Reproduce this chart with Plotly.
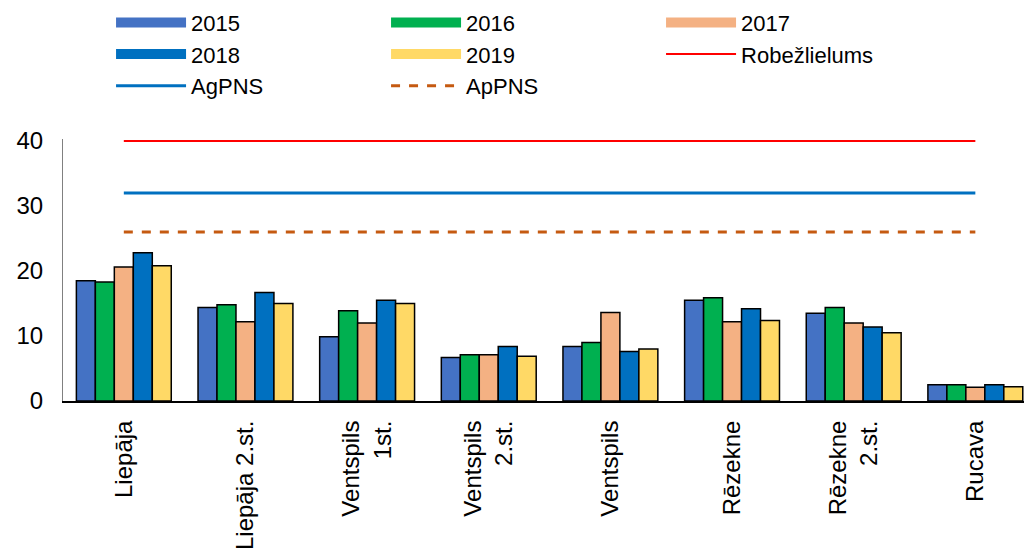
import plotly.graph_objects as go

CATEGORIES = ['Liepāja', 'Liepāja 2.st.', 'Ventspils<br>1st.', 'Ventspils<br>2.st.',
              'Ventspils', 'Rēzekne', 'Rēzekne<br>2.st.', 'Rucava']

V2015 = [18.5, 14.4, 9.9, 6.7, 8.4, 15.5, 13.5, 2.5]
V2016 = [18.3, 14.8, 13.9, 7.1, 9.0, 15.9, 14.4, 2.5]
V2017 = [20.6, 12.2, 12.0, 7.1, 13.6, 12.2, 12.0, 2.1]
V2018 = [22.8, 16.7, 15.5, 8.4, 7.6, 14.2, 11.4, 2.5]
V2019 = [20.8, 15.0, 15.0, 6.9, 8.0, 12.4, 10.5, 2.2]

LIMIT_ROBEZ = 40
LIMIT_AGPNS = 32
LIMIT_APPNS = 26

YEARS = ['2015', '2016', '2017', '2018', '2019']
SERIES = [V2015, V2016, V2017, V2018, V2019]
COLORS = ['#4472C4', '#00B050', '#F4B183', '#0070C0', '#FFD966']

FONT = 'Liberation Sans, Arial, sans-serif'

fig = go.Figure()

for name, vals, color in zip(YEARS, SERIES, COLORS):
    fig.add_trace(go.Bar(
        x=CATEGORIES,
        y=vals,
        name=name,
        legendgroup=name,
        showlegend=False,
        marker=dict(color=color, line=dict(color='black', width=1.5)),
    ))
    # legend entry drawn as a wide block, like the spreadsheet legend
    fig.add_trace(go.Scatter(
        x=[None],
        y=[None],
        name=name,
        legendgroup=name,
        mode='lines',
        line=dict(color=color, width=12),
    ))

lines = [
    ('Robežlielums', LIMIT_ROBEZ, '#FF0000', 2, 'solid'),
    ('AgPNS', LIMIT_AGPNS, '#0070C0', 3, 'solid'),
    ('ApPNS', LIMIT_APPNS, '#C55A11', 3, 'dash'),
]
for name, val, color, width, dash in lines:
    fig.add_trace(go.Scatter(
        x=CATEGORIES,
        y=[val] * len(CATEGORIES),
        name=name,
        mode='lines',
        line=dict(color=color, width=width, dash=dash),
    ))

fig.update_layout(
    width=1024,
    height=548,
    margin=dict(l=63, r=0, t=139, b=147),
    paper_bgcolor='white',
    plot_bgcolor='white',
    font=dict(family=FONT, size=20, color='black'),
    barmode='group',
    bargap=0.22,
    bargroupgap=0,
    showlegend=True,
    legend=dict(
        orientation='h',
        x=0.05,
        xanchor='left',
        yref='container',
        y=0.997,
        yanchor='top',
        entrywidth=190,
        entrywidthmode='pixels',
        itemwidth=70,
        tracegroupgap=0,
        font=dict(family=FONT, size=22, color='black'),
        bgcolor='rgba(0,0,0,0)',
    ),
)

fig.update_xaxes(
    range=[-0.5, 7.4],
    tickangle=-90,
    showline=True,
    linecolor='black',
    linewidth=2,
    ticks='',
    ticklabelstandoff=8,
    showgrid=False,
    automargin=False,
    tickfont=dict(family=FONT, size=24, color='black'),
)

fig.update_yaxes(
    range=[0, 40.3],
    tickvals=[0, 10, 20, 30, 40],
    showline=True,
    linecolor='#808080',
    linewidth=1,
    showgrid=False,
    zeroline=False,
    ticks='',
    ticklabelstandoff=14,
    automargin=False,
    tickfont=dict(family=FONT, size=24, color='black'),
)

# drop the default 8px page margin so the figure fills the window exactly
fig.write_html(
    'out.html',
    config={'displayModeBar': False},
    post_script="document.body.style.margin='0';",
)
